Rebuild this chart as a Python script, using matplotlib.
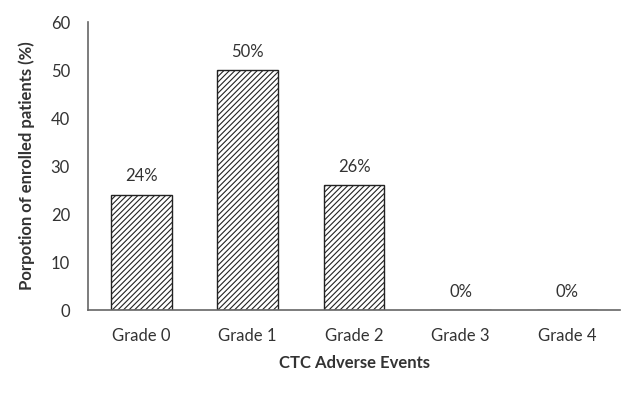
import matplotlib
matplotlib.use("Agg")
import matplotlib.pyplot as plt

categories = ["Grade 0", "Grade 1", "Grade 2", "Grade 3", "Grade 4"]
values = [24, 50, 26, 0, 0]
labels = ["24%", "50%", "26%", "0%", "0%"]
yticks = [0, 10, 20, 30, 40, 50, 60]

plt.rcParams['font.family'] = ['Lato', 'DejaVu Sans']
plt.rcParams['hatch.linewidth'] = 0.8
txt = '#333333'

fig = plt.figure(figsize=(6.4, 3.95), dpi=100)
ax = fig.add_axes([0.1375, 0.215, 0.8315, 0.729])
x = list(range(len(categories)))
bars = ax.bar(x, values, width=0.57, color='white', edgecolor='#222222',
              hatch='//////', linewidth=1.0)
for xi, v, lab in zip(x, values, labels):
    ax.text(xi, v + 2.2, lab, ha='center', va='bottom', fontsize=12, color=txt)

ax.set_xlim(-0.5, 4.5)
ax.set_ylim(0, 60)
ax.set_yticks(yticks)
ax.set_xticks(x)
ax.set_xticklabels(categories)
ax.tick_params(axis='both', length=0, labelsize=12, labelcolor=txt)
ax.tick_params(axis='y', pad=13)
ax.tick_params(axis='x', pad=13)
for s in ['top', 'right']:
    ax.spines[s].set_visible(False)
for s in ['left', 'bottom']:
    ax.spines[s].set_color('#666666')
    ax.spines[s].set_linewidth(1.2)
ax.set_xlabel("CTC Adverse Events", fontsize=12, fontweight='bold', color=txt, labelpad=8)
ax.set_ylabel("Porpotion of enrolled patients (%)", fontsize=12, fontweight='bold', color=txt, labelpad=11)

fig.savefig("out.png", dpi=100)
